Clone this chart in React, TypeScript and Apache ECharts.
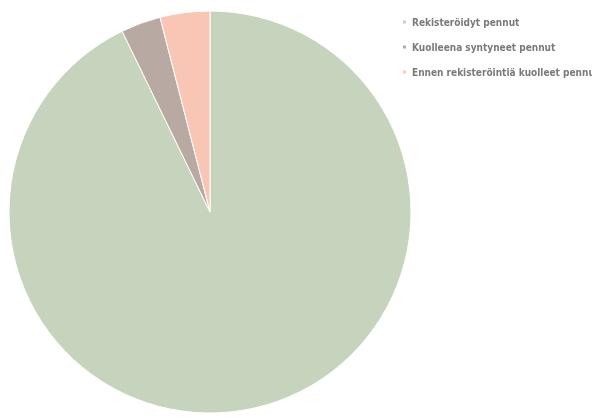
import React, { useEffect, useRef } from "react";
import * as echarts from "echarts";

const categories = [
  "Rekisteröidyt pennut",
  "Kuolleena syntyneet pennut",
  "Ennen rekisteröintiä kuolleet pennut",
];
const values = [928, 32, 40];
const colors = ["#c6d3bd", "#b8aaa2", "#f9c6b6"];

export default function App() {
  const ref = useRef<HTMLDivElement>(null);
  useEffect(() => {
    if (!ref.current) return;
    const chart = echarts.init(ref.current, undefined, { renderer: "svg" });
    chart.setOption({
      animation: false,
      color: colors,
      legend: {
        orient: "vertical",
        left: 396,
        top: 11,
        itemWidth: 5,
        itemHeight: 5,
        itemGap: 13,
        icon: "rect",
        data: categories,
        textStyle: {
          color: "#7a7a7a",
          fontFamily: "'DejaVu Sans Condensed', sans-serif",
          fontWeight: "bold",
          fontSize: 10,
          lineHeight: 12,
        },
      },
      series: [
        {
          type: "pie",
          center: [210, 212],
          radius: 201,
          startAngle: 90,
          clockwise: true,
          label: { show: false },
          labelLine: { show: false },
          emphasis: { disabled: true },
          itemStyle: { borderColor: "#ffffff", borderWidth: 1 },
          data: categories.map((name, i) => ({ name, value: values[i] })),
        },
      ],
    });
    return () => chart.dispose();
  }, []);
  return (
    <div
      ref={ref}
      style={{ position: "fixed", left: 0, top: 0, width: 592, height: 418 }}
    />
  );
}
